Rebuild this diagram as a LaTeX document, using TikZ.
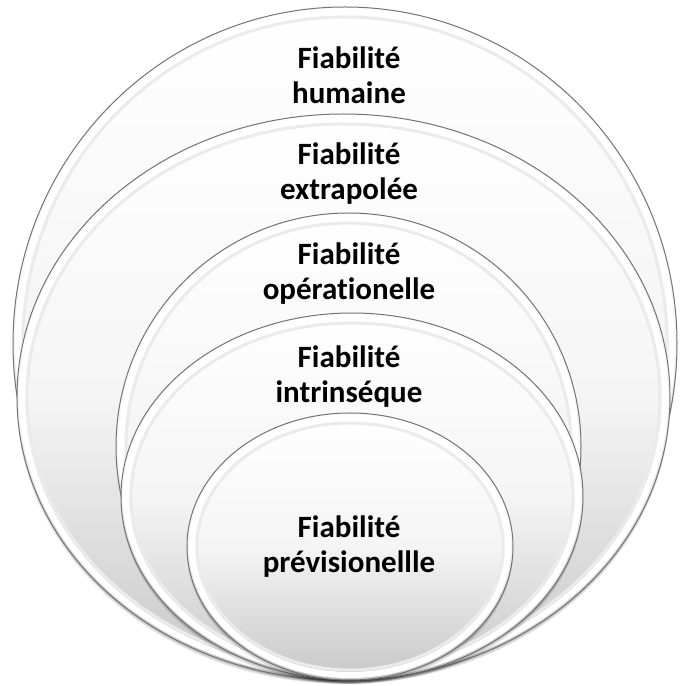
\documentclass[tikz,border=0pt]{standalone}
\usepackage{fontspec}
\setmainfont{Carlito}[Ligatures=NoCommon]
\begin{document}
\begin{tikzpicture}[x=1pt,y=1pt,
  lbl/.style={font=\bfseries\fontsize{31}{35}\selectfont, text=black, align=center, inner sep=0pt},
  discfill/.style={top color=white, bottom color=black!22, middle color=black!4},
  discedge/.style={draw=black!55, line width=1pt},
  discring/.style={draw=white, line width=6pt},
  discbevel/.style={draw=black!8, line width=3pt},
  discshadow/.style={fill=black, opacity=0.09}
]
\useasboundingbox (0,0) rectangle (680,686);
\fill[white] (0,0) rectangle (680,686);
\newcommand\mydisc[4]{%
  \foreach \s in {1,2,3,4}{\path[discshadow] (#1,#2-\s) ellipse [x radius=#3-1+\s*0.3, y radius=#4-1+\s*0.2];}
  \path[discfill] (#1,#2) ellipse [x radius=#3, y radius=#4];
  \path[discbevel] (#1,#2) ellipse [x radius=#3-10, y radius=#4-10];
  \path[discring] (#1,#2) ellipse [x radius=#3-5, y radius=#4-5];
  \path[discedge] (#1,#2) ellipse [x radius=#3, y radius=#4];
}
\mydisc{345}{342.5}{332}{336.5}
\mydisc{343.5}{289}{326.5}{283}
\mydisc{348.5}{239.5}{232.5}{233.5}
\mydisc{352}{189.5}{231}{183.5}
\mydisc{350}{139.5}{163}{133.5}
\node[lbl] (h) at (349,611) {Fiabilité\\humaine};
\node[lbl] (e) at (349,512) {Fiabilité\\extrapolée};
\node[lbl] (o) at (349,412) {Fiabilité\\opérationelle};
\node[lbl] (i) at (349,309) {Fiabilité\\intrinséque};
\node[lbl] (p) at (349,139) {Fiabilité\\prévisionellle};
\end{tikzpicture}
\end{document}
